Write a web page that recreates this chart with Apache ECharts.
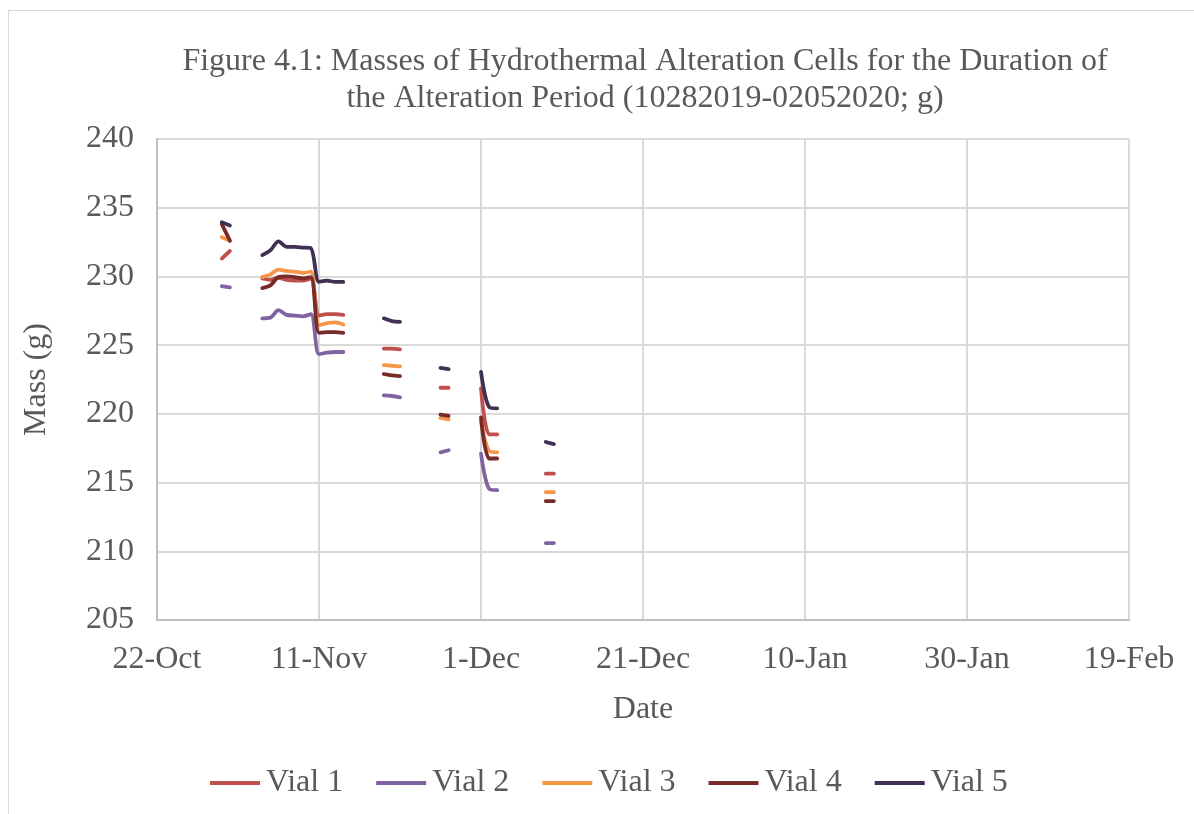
<!DOCTYPE html>
<html>
<head>
<meta charset="utf-8">
<title>Masses of Hydrothermal Alteration Cells</title>
<script src="https://cdn.jsdelivr.net/npm/echarts@6/dist/echarts.min.js"></script>
<style>
  html, body { margin: 0; padding: 0; background: #ffffff; overflow: hidden; }
  #frame { position: absolute; left: 8px; top: 10px; width: 1300px; height: 900px; border: 1px solid #d9d9d9; box-sizing: border-box; }
  #chart { position: absolute; left: 0; top: 0; width: 1194px; height: 814px; }
</style>
</head>
<body>
<div id="frame"></div>
<div id="chart"></div>
<script>
// Weighing dates; a null row marks a break between weighing sessions
const dates = [
  '2019-10-30', '2019-10-31', '2019-11-02',
  '2019-11-04', '2019-11-05', '2019-11-06', '2019-11-07', '2019-11-08', '2019-11-09',
  '2019-11-10', '2019-11-11', '2019-11-12', '2019-11-13', '2019-11-14', '2019-11-16',
  '2019-11-19', '2019-11-20', '2019-11-21', '2019-11-23',
  '2019-11-26', '2019-11-27', '2019-11-29',
  '2019-12-01', '2019-12-02', '2019-12-03', '2019-12-06',
  '2019-12-09', '2019-12-10'
];

// Cell masses (g)
const vial1 = [231.3, 231.85, null,
  229.85, 229.75, 229.9, 229.75, 229.7, 229.7, 229.85, 227.15, 227.25, 227.25, 227.2, null,
  224.75, 224.75, 224.7, null, 221.9, 221.9, null, 221.85, 218.5, 218.5, null, 215.65, 215.65];
const vial2 = [229.3, 229.2, null,
  226.95, 227.0, 227.55, 227.2, 227.15, 227.1, 227.25, 224.35, 224.45, 224.5, 224.5, null,
  221.35, 221.3, 221.2, null, 217.2, 217.35, null, 217.1, 214.55, 214.45, null, 210.6, 210.6];
const vial3 = [232.85, 232.6, null,
  229.95, 230.15, 230.5, 230.4, 230.35, 230.25, 230.35, 226.45, 226.6, 226.65, 226.5, null,
  223.55, 223.5, 223.45, null, 219.7, 219.6, null, 219.45, 217.3, 217.2, null, 214.3, 214.3];
const vial4 = [233.8, 232.6, null,
  229.15, 229.35, 229.95, 230.0, 229.95, 229.85, 229.95, 225.9, 225.95, 225.95, 225.9, null,
  222.9, 222.8, 222.75, null, 219.95, 219.85, null, 219.75, 216.75, 216.75, null, 213.65, 213.65];
const vial5 = [233.95, 233.7, null,
  231.55, 231.9, 232.55, 232.15, 232.15, 232.1, 232.05, 229.6, 229.7, 229.6, 229.6, null,
  226.95, 226.75, 226.7, null, 223.35, 223.25, null, 223.05, 220.5, 220.4, null, 217.95, 217.8];

const seriesNames = ['Vial 1', 'Vial 2', 'Vial 3', 'Vial 4', 'Vial 5'];
const seriesColors = ['#c0504d', '#8064a2', '#f79646', '#772c2a', '#403152'];

// Date axis: days counted from 22-Oct-2019, one tick every 20 days
const axisStart = Date.UTC(2019, 9, 22);
const DAY = 86400000;
const xMin = 0, xMax = 120, xStep = 20;
const monthNames = ['Jan', 'Feb', 'Mar', 'Apr', 'May', 'Jun', 'Jul', 'Aug', 'Sep', 'Oct', 'Nov', 'Dec'];

function dayOffset(s) {
  const p = s.split('-').map(Number);
  return (Date.UTC(p[0], p[1] - 1, p[2]) - axisStart) / DAY;
}
function dayLabel(v) {
  const d = new Date(axisStart + v * DAY);
  return d.getUTCDate() + '-' + monthNames[d.getUTCMonth()];
}

const FONT = '"Liberation Serif", "Times New Roman", serif';
const TEXT = '#595959';

const chart = echarts.init(document.getElementById('chart'), null, { renderer: 'canvas' });

const series = [vial1, vial2, vial3, vial4, vial5].map((vals, i) => ({
  name: seriesNames[i],
  type: 'line',
  data: vals.map((v, k) => [dayOffset(dates[k]), v]),
  showSymbol: false,
  symbol: 'none',
  smooth: 0.3,
  connectNulls: false,
  lineStyle: { color: seriesColors[i], width: 3.8, cap: 'round' },
  itemStyle: { color: seriesColors[i] },
  emphasis: { disabled: true },
  animation: false
}));

chart.setOption({
  animation: false,
  textStyle: { fontFamily: FONT },
  title: {
    text: 'Figure 4.1: Masses of Hydrothermal Alteration Cells for the Duration of\nthe Alteration Period (10282019-02052020; g)',
    left: 640,
    top: 38,
    textAlign: 'center',
    textStyle: { fontFamily: FONT, fontSize: 32, fontWeight: 'normal', color: TEXT, lineHeight: 37 }
  },
  legend: {
    data: seriesNames,
    left: 205,
    top: 762,
    icon: 'rect',
    itemWidth: 50,
    itemHeight: 4,
    itemGap: 33,
    textStyle: { fontFamily: FONT, fontSize: 32, color: TEXT, padding: [0, 0, 0, 1] }
  },
  grid: { left: 157, right: 65, top: 139, bottom: 194, containLabel: false },
  xAxis: {
    type: 'value',
    min: xMin,
    max: xMax,
    interval: xStep,
    name: 'Date',
    nameLocation: 'middle',
    nameGap: 74,
    nameTextStyle: { fontFamily: FONT, fontSize: 32, color: TEXT },
    axisLine: { show: true, lineStyle: { color: '#bfbfbf', width: 2 } },
    axisTick: { show: false },
    axisLabel: { formatter: dayLabel, fontFamily: FONT, fontSize: 32, color: TEXT, margin: 24 },
    splitLine: { show: true, lineStyle: { color: '#d9d9d9', width: 2 } }
  },
  yAxis: {
    type: 'value',
    min: 205,
    max: 240,
    interval: 5,
    name: 'Mass (g)',
    nameLocation: 'middle',
    nameRotate: 90,
    nameGap: 104,
    nameTextStyle: { fontFamily: FONT, fontSize: 32, color: TEXT },
    axisLine: { show: true, lineStyle: { color: '#bfbfbf', width: 2 } },
    axisTick: { show: false },
    axisLabel: { fontFamily: FONT, fontSize: 32, color: TEXT, margin: 23 },
    splitLine: { show: true, lineStyle: { color: '#d9d9d9', width: 2 } }
  },
  series: series
});
</script>
</body>
</html>
